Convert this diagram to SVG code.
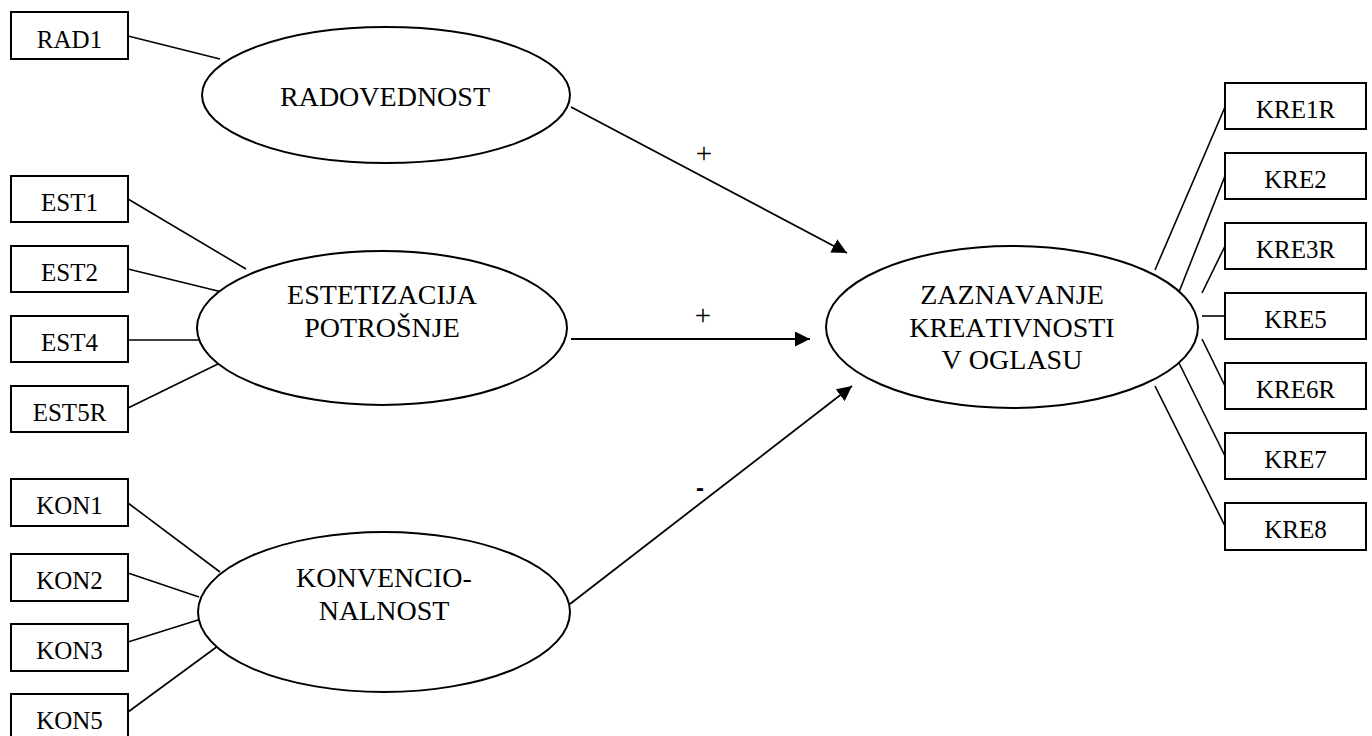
<svg xmlns="http://www.w3.org/2000/svg" width="1372" height="736" viewBox="0 0 1372 736">
  <style>
    text { font-family: "Liberation Serif", "Times New Roman", serif; fill: #000; font-kerning: none; }
    .box rect { fill: #fff; stroke: #000; stroke-width: 2; }
    .box text { font-size: 25px; text-anchor: middle; }
    .lat ellipse { fill: #fff; stroke: #000; stroke-width: 2; }
    .lat text { font-size: 28px; text-anchor: middle; }
    .load line { stroke: #000; stroke-width: 1.6; }
    .path line { stroke: #000; stroke-width: 1.8; marker-end: url(#head); }
    .sign { font-size: 29px; text-anchor: middle; }
  </style>
  <defs>
    <marker id="head" viewBox="0 0 15 15" refX="15" refY="7.5" markerWidth="15" markerHeight="15" markerUnits="userSpaceOnUse" orient="auto">
      <path d="M0,0 L15,7.5 L0,15 Z" fill="#000"/>
    </marker>
  </defs>
  <rect width="1372" height="736" fill="#fff"/>

  <!-- indicator loadings -->
  <g id="connectors">
    <g class="load">
      <line x1="128" y1="36" x2="220" y2="59"/>
      <line x1="128" y1="199" x2="246" y2="269"/>
      <line x1="128" y1="269" x2="222" y2="292"/>
      <line x1="128" y1="340" x2="199" y2="340"/>
      <line x1="128" y1="408" x2="222" y2="362"/>
      <line x1="128" y1="503" x2="220" y2="572"/>
      <line x1="128" y1="573" x2="199" y2="597"/>
      <line x1="128" y1="642" x2="198" y2="620"/>
      <line x1="128" y1="712" x2="222" y2="643"/>
      <line x1="1225" y1="107" x2="1155" y2="270"/>
      <line x1="1225" y1="176" x2="1179" y2="292"/>
      <line x1="1225" y1="246" x2="1202" y2="293"/>
      <line x1="1225" y1="316" x2="1202" y2="316"/>
      <line x1="1225" y1="386" x2="1202" y2="339"/>
      <line x1="1225" y1="456" x2="1179" y2="363"/>
      <line x1="1225" y1="526" x2="1155" y2="386"/>
    </g>
    <!-- structural paths -->
    <g class="path">
      <line x1="571" y1="107" x2="847" y2="253"/>
      <line x1="571" y1="339" x2="810" y2="339"/>
      <line x1="570" y1="604" x2="852" y2="386"/>
    </g>
    <text class="sign" x="704" y="163">+</text>
    <text class="sign" x="703" y="325">+</text>
    <text class="sign" x="700" y="496" style="font-family:'Liberation Sans',Arial,sans-serif;font-size:24px;font-weight:bold">-</text>
  </g>

  <!-- latent constructs -->
  <g id="radovednost" class="lat">
    <ellipse cx="386" cy="95" rx="184" ry="68"/>
    <text x="385" y="106">RADOVEDNOST</text>
  </g>
  <g id="estetizacija" class="lat">
    <ellipse cx="382" cy="328" rx="185" ry="77"/>
    <text x="382" y="304">ESTETIZACIJA</text>
    <text x="382" y="337">POTROŠNJE</text>
  </g>
  <g id="konvencionalnost" class="lat">
    <ellipse cx="384" cy="612" rx="186" ry="80"/>
    <text x="384" y="587">KONVENCIO-</text>
    <text x="384" y="620">NALNOST</text>
  </g>
  <g id="zaznavanje" class="lat">
    <ellipse cx="1012" cy="327" rx="186" ry="81"/>
    <text x="1012" y="304">ZAZNAVANJE</text>
    <text x="1012" y="337">KREATIVNOSTI</text>
    <text x="1012" y="369">V OGLASU</text>
  </g>

  <!-- indicators, left -->
  <g id="rad1" class="box"><rect x="11" y="12" width="117" height="47"/><text x="69.5" y="48">RAD1</text></g>
  <g id="est1" class="box"><rect x="11" y="176" width="117" height="46"/><text x="69.5" y="211">EST1</text></g>
  <g id="est2" class="box"><rect x="11" y="246" width="117" height="46"/><text x="69.5" y="281">EST2</text></g>
  <g id="est4" class="box"><rect x="11" y="316" width="117" height="46"/><text x="69.5" y="351">EST4</text></g>
  <g id="est5r" class="box"><rect x="11" y="386" width="117" height="46"/><text x="69.5" y="421">EST5R</text></g>
  <g id="kon1" class="box"><rect x="11" y="479" width="117" height="47"/><text x="69.5" y="514">KON1</text></g>
  <g id="kon2" class="box"><rect x="11" y="554" width="117" height="47"/><text x="69.5" y="589">KON2</text></g>
  <g id="kon3" class="box"><rect x="11" y="624" width="117" height="47"/><text x="69.5" y="659">KON3</text></g>
  <g id="kon5" class="box"><rect x="11" y="694" width="117" height="47"/><text x="69.5" y="729">KON5</text></g>

  <!-- indicators, right -->
  <g id="kre1r" class="box"><rect x="1225" y="83" width="141" height="46"/><text x="1295.5" y="118">KRE1R</text></g>
  <g id="kre2" class="box"><rect x="1225" y="153" width="141" height="46"/><text x="1295.5" y="188">KRE2</text></g>
  <g id="kre3r" class="box"><rect x="1225" y="223" width="141" height="46"/><text x="1295.5" y="258">KRE3R</text></g>
  <g id="kre5" class="box"><rect x="1225" y="293" width="141" height="46"/><text x="1295.5" y="328">KRE5</text></g>
  <g id="kre6r" class="box"><rect x="1225" y="363" width="141" height="46"/><text x="1295.5" y="398">KRE6R</text></g>
  <g id="kre7" class="box"><rect x="1225" y="433" width="141" height="46"/><text x="1295.5" y="468">KRE7</text></g>
  <g id="kre8" class="box"><rect x="1225" y="503" width="141" height="47"/><text x="1295.5" y="538">KRE8</text></g>
</svg>
